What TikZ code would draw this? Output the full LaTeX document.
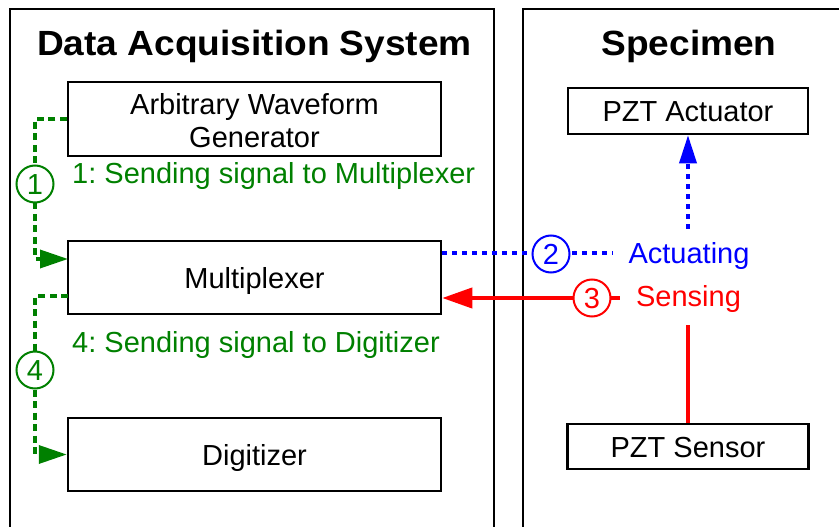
\documentclass[tikz,border=0pt]{standalone}
\usepackage{fontspec}
\setmainfont{Liberation Sans}
\usetikzlibrary{arrows.meta}
\definecolor{dgreen}{RGB}{0,128,0}
\definecolor{pblue}{RGB}{0,0,255}
\definecolor{pred}{RGB}{255,0,0}
\frenchspacing
\begin{document}
\begin{tikzpicture}[x=1pt,y=-1pt,
  txt/.style={font=\fontsize{29}{33.3}\selectfont, inner sep=0pt},
  boxn/.style={draw, line width=2.5pt, inner sep=0pt, font=\fontsize{29}{33.3}\selectfont, text height=21pt, text depth=0pt},
  numc/.style={circle, line width=2pt, fill=white, minimum size=37pt, inner sep=0pt, font=\fontsize{29}{33.3}\selectfont, text height=21pt, text depth=0pt},
  glink/.style={dgreen, line width=3.5pt, dash pattern=on 7pt off 4.5pt, -{Triangle[length=28pt,width=18pt]}},
  blink/.style={pblue, line width=3.5pt, dash pattern=on 5pt off 5pt, -{Triangle[length=28pt,width=17pt]}},
  rlink/.style={pred, line width=4pt, -{Triangle[length=30pt,width=20pt]}},
  lab/.style={txt, fill=white, text height=21pt, text depth=6pt, inner xsep=16pt, inner ysep=12pt, anchor=base},
  ttl/.style={txt, anchor=base, font=\fontsize{35}{38}\selectfont\bfseries},
  frame/.style={line width=2.5pt}
]
\useasboundingbox (0,0) rectangle (839,527);
\clip (0,0) rectangle (839,527);
% outer frames
\draw[frame] (10,540) -- (10,9) -- (494,9) -- (494,540);
\draw[frame] (860,9) -- (523,9) -- (523,540);
\node[ttl] (t1) at (254.5,55.5) {\scalebox{1.06}[1]{Data Acquisition System}};
\node[ttl] (t2) at (689,55.5) {\scalebox{1.06}[1]{Specimen}};
% boxes
\node[boxn, minimum width=373pt, minimum height=74pt] (awg) at (254.5,119) {};
\node[txt, align=center] (awgt) at (254.5,120.5) {Arbitrary Waveform\\Generator};
\node[boxn, minimum width=373pt, minimum height=73pt] (mux) at (254.5,277.5) {Multiplexer};
\node[boxn, minimum width=373pt, minimum height=73pt] (dig) at (254.5,454.5) {Digitizer};
\node[boxn, minimum width=240pt, minimum height=46pt] (pzta) at (688,111) {PZT Actuator};
\node[boxn, minimum width=241pt, minimum height=45pt] (pzts) at (688,446.5) {PZT Sensor};
% coordinates
\coordinate (g1) at (35,119);
\coordinate (m1) at (68,259);
\coordinate (g2) at (35,296);
\coordinate (m2) at (68,296);
\coordinate (actc) at (688,253);
\coordinate (senc) at (688,298);
% connectors
\draw[glink] (awg.west) -- (g1) -- (g1 |- m1) -- (m1);
\draw[glink] (m2) -- (g2) -- (g2 |- dig.west) -- (dig.west);
\draw[blink] (mux.east |- actc) -- (actc) -- (pzta.south);
\draw[rlink] (pzts.north) -- (senc) -- (mux.east |- senc);
% circles and labels
\node[numc, draw=dgreen, text=dgreen] (c1) at (35,184) {1};
\node[numc, draw=dgreen, text=dgreen] (c4) at (35,370) {4};
\node[numc, draw=pblue, text=pblue] (c2) at (551,254) {2};
\node[numc, draw=pred, text=pred] (c3) at (592,298) {3};
\node[txt, anchor=base west, text=dgreen] (l1) at (72,183) {1: Sending signal to Multiplexer};
\node[txt, anchor=base west, text=dgreen] (l4) at (72,352.5) {4: Sending signal to Digitizer};
\node[lab, text=pblue] (la) at (689,263.3) {Actuating};
\node[lab, text=pred] (ls) at (688.5,306.7) {Sensing};
\end{tikzpicture}
\end{document}
